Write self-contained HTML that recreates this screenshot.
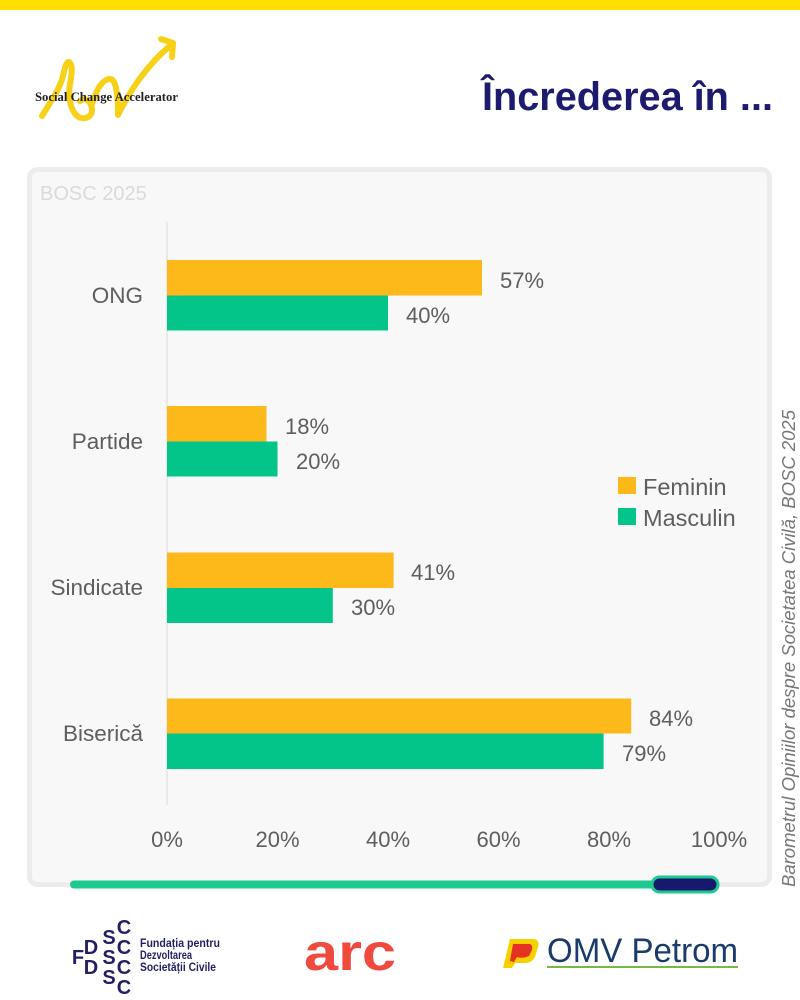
<!DOCTYPE html>
<html>
<head>
<meta charset="utf-8">
<style>
  html,body{margin:0;padding:0;background:#fff;}
  body{width:800px;height:1000px;overflow:hidden;position:relative;font-family:"Liberation Sans",sans-serif;}
  svg{position:absolute;left:0;top:0;}
</style>
</head>
<body>
<svg width="800" height="1000" viewBox="0 0 800 1000" xmlns="http://www.w3.org/2000/svg">
  <!-- top yellow bar -->
  <rect x="0" y="0" width="800" height="10" fill="#ffde00"/>

  <!-- Social Change Accelerator logo -->
  <g fill="none" stroke="#f7d117" stroke-width="6" stroke-linecap="round" stroke-linejoin="round">
    <path d="M42,116 C52,100 60,88 63,76 C65,66 67,61 69,62 C73,64 72,74 70,84 C68,96 70,108 76,115 C82,121 93,118 92,109 C91,100 84,97 80,101"/>
    <path d="M92,104 C97,88 103,79 110,79 C116,79 118,94 118,115 C130,90 148,64 171,45"/>
    <path d="M161,39 L173,43 L172,57"/>
  </g>
  <text x="35" y="101" font-family="'Liberation Serif',serif" font-weight="bold" font-size="12.5" fill="#222" textLength="143" lengthAdjust="spacingAndGlyphs">Social Change Accelerator</text>

  <!-- title -->
  <text x="773" y="110" text-anchor="end" font-family="'Liberation Sans',sans-serif" font-weight="bold" font-size="39.5" fill="#1d1b6e" textLength="291" lengthAdjust="spacingAndGlyphs">Încrederea în ...</text>

  <!-- card -->
  <rect x="29.5" y="169.5" width="740" height="715" rx="8" ry="8" fill="#f8f8f8" stroke="#ececec" stroke-width="5"/>
  <text x="40" y="200" font-size="20" fill="#dadada">BOSC 2025</text>

  <!-- axis line -->
  <line x1="167" y1="222" x2="167" y2="805" stroke="#e4e4e4" stroke-width="1.5"/>

  <!-- bars -->
  <g>
    <rect x="167" y="260" width="315" height="35.5" fill="#fdb91a"/>
    <rect x="167" y="295.5" width="221" height="35" fill="#03c58a"/>
    <rect x="167" y="406" width="99.5" height="35.5" fill="#fdb91a"/>
    <rect x="167" y="441.5" width="110.5" height="35" fill="#03c58a"/>
    <rect x="167" y="552.5" width="226.6" height="35.5" fill="#fdb91a"/>
    <rect x="167" y="588" width="165.8" height="35" fill="#03c58a"/>
    <rect x="167" y="698.5" width="464.2" height="35" fill="#fdb91a"/>
    <rect x="167" y="733.5" width="436.6" height="35.5" fill="#03c58a"/>
  </g>

  <!-- value labels -->
  <g font-size="22" fill="#5e5e5e">
    <text x="500" y="288">57%</text>
    <text x="406" y="323">40%</text>
    <text x="285" y="434">18%</text>
    <text x="296" y="469">20%</text>
    <text x="411" y="580">41%</text>
    <text x="351" y="615">30%</text>
    <text x="649" y="726">84%</text>
    <text x="622" y="761">79%</text>
  </g>

  <!-- category labels -->
  <g font-size="22.5" fill="#5e5e5e" text-anchor="end">
    <text x="143" y="303">ONG</text>
    <text x="143" y="449">Partide</text>
    <text x="143" y="595">Sindicate</text>
    <text x="143" y="741">Biserică</text>
  </g>

  <!-- x ticks -->
  <g font-size="22" fill="#5e5e5e" text-anchor="middle">
    <text x="167" y="847">0%</text>
    <text x="277.5" y="847">20%</text>
    <text x="388" y="847">40%</text>
    <text x="498.5" y="847">60%</text>
    <text x="609" y="847">80%</text>
    <text x="719" y="847">100%</text>
  </g>

  <!-- legend -->
  <rect x="618" y="477" width="18" height="17" fill="#fdb91a"/>
  <rect x="618" y="508" width="18" height="17" fill="#03c58a"/>
  <g font-size="23.5" fill="#5e5e5e">
    <text x="643" y="495">Feminin</text>
    <text x="643" y="526">Masculin</text>
  </g>

  <!-- scrollbar -->
  <line x1="74" y1="884.5" x2="690" y2="884.5" stroke="#1ec98f" stroke-width="8" stroke-linecap="round"/>
  <rect x="652" y="877" width="66" height="15" rx="7.5" ry="7.5" fill="#17196e" stroke="#1ec98f" stroke-width="3"/>

  <!-- vertical source text -->
  <text x="0" y="0" transform="translate(795,887) rotate(-90)" font-size="18" font-style="italic" fill="#777" textLength="477" lengthAdjust="spacingAndGlyphs">Barometrul Opiniilor despre Societatea Civilă, BOSC 2025</text>

  <!-- FDSC logo -->
  <g font-family="'Liberation Sans',sans-serif" font-weight="bold" fill="#221f63" font-size="20" text-anchor="middle">
    <text x="124" y="934">C</text>
    <text x="109" y="944">S</text>
    <text x="124" y="954">C</text>
    <text x="91" y="954">D</text>
    <text x="109" y="964">S</text>
    <text x="78" y="964">F</text>
    <text x="124" y="974">C</text>
    <text x="91" y="974">D</text>
    <text x="109" y="984">S</text>
    <text x="124" y="994">C</text>
  </g>
  <g font-family="'Liberation Sans',sans-serif" font-weight="bold" fill="#221f63" font-size="12">
    <text x="140" y="947" textLength="80" lengthAdjust="spacingAndGlyphs">Fundația pentru</text>
    <text x="140" y="959" textLength="52" lengthAdjust="spacingAndGlyphs">Dezvoltarea</text>
    <text x="140" y="971" textLength="76" lengthAdjust="spacingAndGlyphs">Societății Civile</text>
  </g>

  <!-- arc logo -->
  <text x="304" y="970" font-family="'Liberation Sans',sans-serif" font-weight="bold" font-size="52" fill="#f0493e" textLength="92" lengthAdjust="spacingAndGlyphs">arc</text>

  <!-- OMV Petrom logo -->
  <g>
    <path d="M510,939 L534,939 Q540,940 538,947 L535,957 Q532,963 525,963 L515,963 L512,968 L503,968 Z" fill="#f8d000"/>
    <path d="M513,944 L530,944 Q534,946 531,952 L529,956 Q522,959 517,957 L514,962 L510,961 Z" fill="#e63225"/>
  </g>
  <text x="547" y="962" font-family="'Liberation Sans',sans-serif" font-size="34" fill="#1a3b6b" textLength="191" lengthAdjust="spacingAndGlyphs">OMV Petrom</text>
  <line x1="547" y1="967" x2="738" y2="967" stroke="#7ab648" stroke-width="2"/>
</svg>
</body>
</html>
